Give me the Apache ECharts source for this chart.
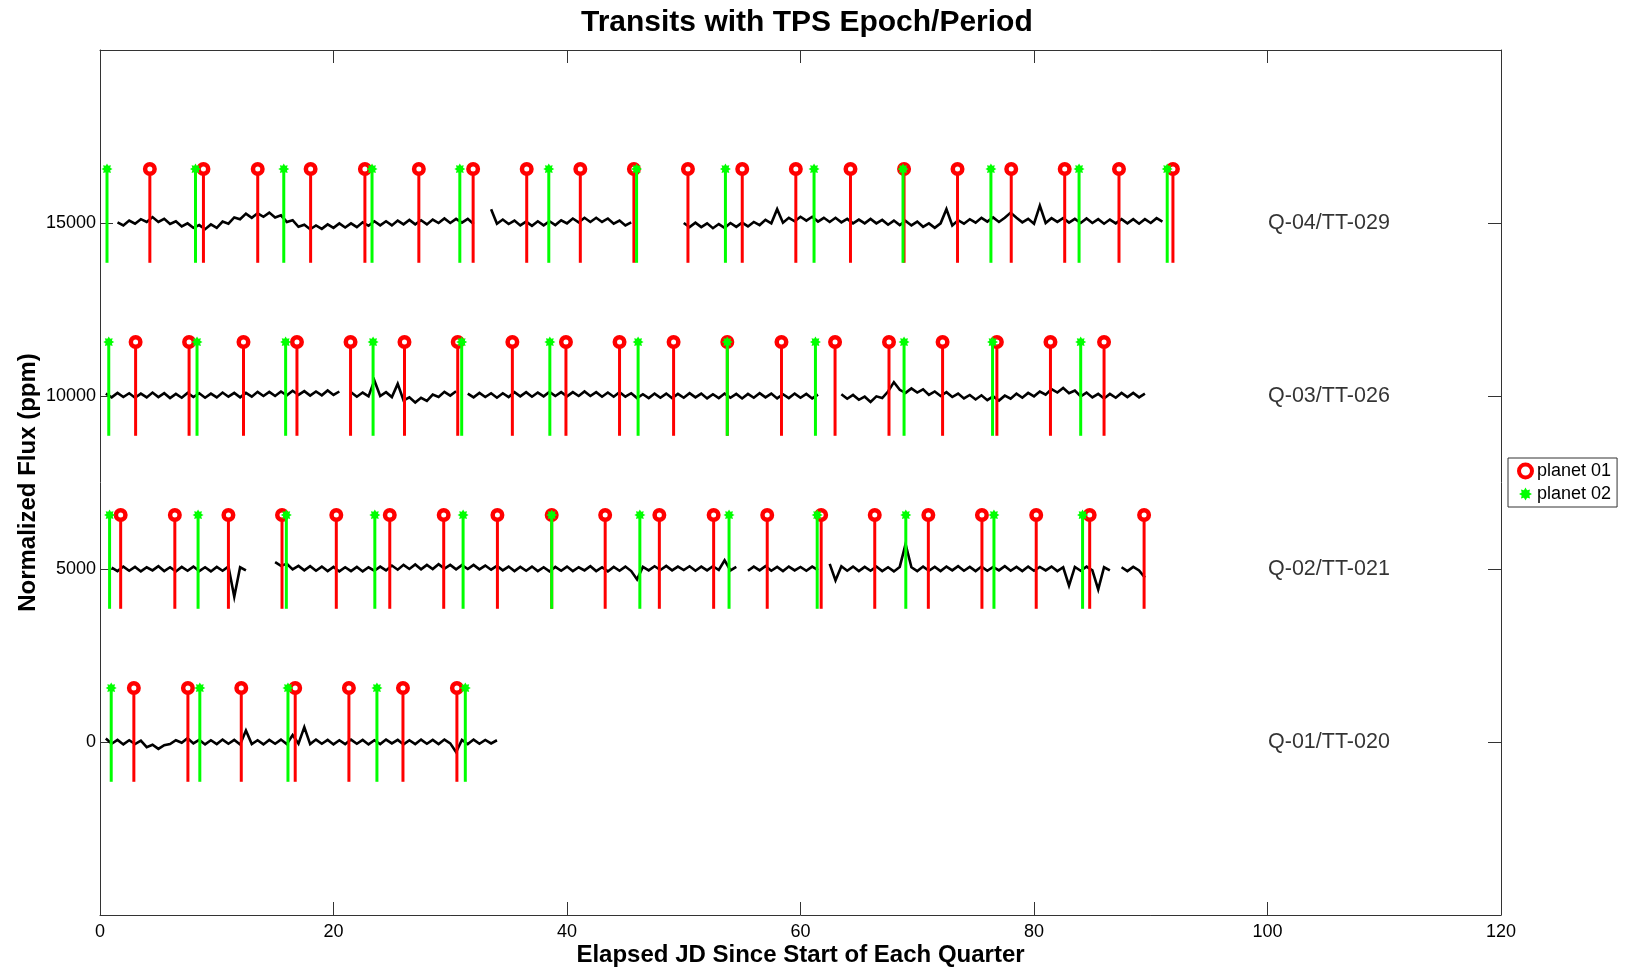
<!DOCTYPE html>
<html><head><meta charset="utf-8">
<script src="https://cdn.jsdelivr.net/npm/echarts@6.0.0/dist/echarts.min.js"></script>
<style>html,body{margin:0;padding:0;background:#fff}#c{width:1625px;height:968px}</style>
</head><body><div id="c"></div>
<script>
// ---- data ----
const quarterLabels = ['Q-01/TT-020', 'Q-02/TT-021', 'Q-03/TT-026', 'Q-04/TT-029'];
const quarterOffsets = [0, 5000, 10000, 15000];
const quarterLabelX = 100;
const xTicks = [0, 20, 40, 60, 80, 100, 120];
const yTicks = [0, 5000, 10000, 15000];
const sampleStep = 0.5;

// flux deviation (ppm) sampled every 0.5 d, null = data gap
const q01Start = 0.5;
const q01Flux = [100,-50,60,-70,50,-60,40,-150,-80,-200,
  -90,-60,50,-20,110,-40,60,-70,50,-60,
  70,-50,60,-70,330,-60,50,-70,60,-50,
  70,-60,200,-50,430,-60,70,-50,60,-70,
  50,-60,70,-50,60,-70,50,-60,70,-40,
  60,-70,50,-60,70,-50,60,-60,70,-40,
  -290,60,-60,70,-50,60,-40,50];

const q02Start = 1.0;
const q02Flux = [40,-60,70,-50,60,-70,50,-40,80,-60,
  50,-70,60,-50,70,-60,50,-70,60,-50,
  70,-800,50,-40,null,null,null,null,200,90,
  150,-10,90,-40,80,-50,70,-60,60,-70,
  50,-60,60,-70,50,-50,70,-40,100,-20,
  120,0,130,-10,120,0,140,10,120,-10,
  110,0,120,-10,100,-20,90,-40,70,-60,
  60,-50,70,-60,50,-70,60,-50,70,-60,
  50,-40,80,-60,50,-70,60,-50,70,-60,
  -300,60,-40,80,-30,90,-40,70,-30,80,
  -50,70,-40,80,-30,250,-40,60,null,-50,
  70,-40,80,-50,60,-60,70,-40,60,-50,
  70,-30,null,150,-330,80,-50,70,-60,60,
  -50,70,-60,50,-70,60,720,50,-60,70,
  -50,60,-60,70,-40,80,-50,60,-60,70,
  -50,60,-40,80,-50,60,-60,70,-50,60,
  -40,70,-60,50,-480,60,-50,70,-40,-590,
  50,-40,null,50,-60,60,-40,-250];

const q03Start = 0.5;
const q03Flux = [70,-40,90,-30,80,-50,70,-40,100,-30,
  80,-60,60,-50,90,-30,80,-50,70,-40,
  100,-20,90,-40,90,-20,120,0,120,0,
  130,20,150,30,140,10,130,20,160,30,
  130,null,110,-20,100,-10,450,0,110,-30,
  350,-130,-40,-190,-50,-140,40,-30,120,10,
  140,null,70,-40,90,-30,80,-50,80,-30,
  110,-10,110,-20,100,-10,120,0,110,-10,
  110,0,130,0,110,-20,100,-20,110,-20,
  80,-60,50,-60,70,-50,70,-60,60,-50,
  80,-40,70,-70,50,-60,70,-50,60,-70,
  60,-50,80,-40,70,-70,50,-60,70,-50,
  60,-70,40,null,null,null,50,-80,30,-110,
  -20,-170,-10,-60,130,400,180,90,220,100,
  190,30,130,0,110,-30,70,-70,30,-100,
  20,-120,-10,-130,10,-80,70,-50,90,-10,
  130,40,200,100,230,80,160,-10,100,-40,
  60,-70,60,-50,90,-30,90,-40,70];

const q04Start = 1.5;
const q04Flux = [20,-70,70,-20,110,30,170,30,120,-30,
  50,-100,-10,-140,-60,-180,-40,-140,40,-20,
  160,110,270,150,280,180,300,160,220,30,
  80,-110,-50,-180,-70,-170,-40,-140,-10,-130,
  -10,-120,20,-80,50,-70,50,-70,70,-40,
  90,-40,80,-40,100,0,130,0,120,10,
  120,-30,null,null,400,-20,100,-30,70,-70,
  40,-80,50,-70,50,-60,80,-10,130,20,
  150,30,150,30,130,-20,70,-70,20,null,
  null,null,null,null,null,null,null,0,-120,10,
  -120,-10,-150,-30,-140,0,-110,10,-100,30,
  -60,90,-10,400,10,150,50,180,70,180,
  40,150,30,150,20,120,-10,100,-10,120,
  -10,90,-50,70,-60,60,-70,40,-110,-10,
  -140,-10,400,-70,80,-20,110,10,150,40,
  160,30,150,300,150,20,120,-20,500,0,
  140,30,140,10,120,0,130,0,110,-20,
  100,-10,110,-10,110,-20,110,0,140,40];

// transit times (days)
const q01Planet01 = [2.9, 7.53, 12.1, 16.72, 21.32, 25.95, 30.57];
const q01Planet02 = [0.96, 8.55, 16.1, 23.72, 31.29];
const q02Planet01 = [1.77, 6.41, 11.0, 15.59, 20.24, 24.82, 29.44, 34.04, 38.69, 43.27, 47.91, 52.56, 57.15, 61.77, 66.36, 70.95, 75.54, 80.19, 84.77, 89.43];
const q02Planet02 = [0.82, 8.4, 15.96, 23.54, 31.1, 38.69, 46.24, 53.88, 61.43, 69.02, 76.57, 84.16];
const q03Planet01 = [3.05, 7.63, 12.29, 16.87, 21.46, 26.08, 30.64, 35.32, 39.91, 44.5, 49.13, 53.73, 58.37, 62.96, 67.58, 72.17, 76.82, 81.41, 86.0];
const q03Planet02 = [0.75, 8.31, 15.9, 23.39, 30.98, 38.53, 46.09, 53.73, 61.28, 68.87, 76.45, 84.0];
const q04Planet01 = [4.27, 8.86, 13.51, 18.04, 22.69, 27.31, 31.96, 36.55, 41.14, 45.73, 50.36, 55.01, 59.6, 64.28, 68.87, 73.45, 78.05, 82.63, 87.28, 91.9];
const q04Planet02 = [0.6, 8.18, 15.74, 23.3, 30.82, 38.44, 45.96, 53.57, 61.16, 68.78, 76.31, 83.86, 91.41];
const stemBelow = -1150;
const stemAbove = 1560;

// ---- build ----
const FONT = 'Liberation Sans';
const RED = '#ff0000', GREEN = '#00ff00';
const STAR = 'path://M20 10 L15.8 12.4 L17.07 17.07 L12.4 15.8 L10 20 L7.6 15.8 L2.93 17.07 L4.2 12.4 L0 10 L4.2 7.6 L2.93 2.93 L7.6 4.2 L10 0 L12.4 4.2 L17.07 2.93 L15.8 7.6 Z';

const fluxSets = [[q01Start, q01Flux], [q02Start, q02Flux], [q03Start, q03Flux], [q04Start, q04Flux]];
const p1Sets = [q01Planet01, q02Planet01, q03Planet01, q04Planet01];
const p2Sets = [q01Planet02, q02Planet02, q03Planet02, q04Planet02];

const series = [];
fluxSets.forEach(([start, vals], qi) => {
  const off = quarterOffsets[qi];
  series.push({
    type: 'line', name: 'flux' + qi, showSymbol: false, symbol: 'none', connectNulls: false,
    lineStyle: { color: '#000', width: 2.6, join: 'miter' }, z: 2, silent: true,
    data: vals.map((v, i) => [start + i * sampleStep, v === null ? '-' : off + v])
  });
});

function stemData(sets) {
  const out = [];
  sets.forEach((arr, qi) => arr.forEach(t => out.push([t, quarterOffsets[qi] + stemBelow, quarterOffsets[qi] + stemAbove])));
  return out;
}
function markerData(sets) {
  const out = [];
  sets.forEach((arr, qi) => arr.forEach(t => out.push([t, quarterOffsets[qi] + stemAbove])));
  return out;
}
function stemSeries(sets, color, z) {
  return {
    type: 'custom', name: 'stem', z: z, silent: true,
    encode: { x: 0, y: [1, 2] },
    data: stemData(sets),
    renderItem: (params, api) => {
      const a = api.coord([api.value(0), api.value(1)]);
      const b = api.coord([api.value(0), api.value(2)]);
      return { type: 'line', shape: { x1: a[0], y1: a[1], x2: b[0], y2: b[1] }, style: { stroke: color, lineWidth: 3 } };
    }
  };
}
series.push(stemSeries(p1Sets, RED, 3));
series.push({
  type: 'scatter', name: 'planet 01', z: 4, silent: true,
  symbol: 'circle', symbolSize: 9.5,
  itemStyle: { color: '#fff', borderColor: RED, borderWidth: 4.5, opacity: 1 },
  data: markerData(p1Sets)
});
series.push(stemSeries(p2Sets, GREEN, 5));
series.push({
  type: 'scatter', name: 'planet 02', z: 6, silent: true,
  symbol: STAR, symbolSize: 11,
  itemStyle: { color: GREEN, opacity: 1 },
  data: markerData(p2Sets)
});
series.push({
  type: 'scatter', name: 'labels', silent: true, symbolSize: 1,
  itemStyle: { color: 'rgba(0,0,0,0)' },
  data: quarterOffsets.map((o, i) => [quarterLabelX, o, quarterLabels[i]]),
  label: { show: true, position: 'right', distance: 0, formatter: p => p.data[2],
    fontSize: 21.5, fontFamily: FONT, color: '#000' }
});

const axisLineStyle = { color: '#333', width: 1 };
const chart = echarts.init(document.getElementById('c'));
chart.setOption({
  animation: false,
  backgroundColor: '#fff',
  title: { text: 'Transits with TPS Epoch/Period', left: 576, top: 3,
    textStyle: { fontFamily: FONT, fontSize: 30, fontWeight: 'bold', color: '#000' } },
  legend: {
    data: [
      { name: 'planet 01', icon: 'circle', itemStyle: { color: '#fff', borderColor: RED, borderWidth: 4 } },
      { name: 'planet 02', icon: STAR, itemStyle: { color: GREEN } }
    ],
    orient: 'vertical', left: 1508, top: 458, itemWidth: 13, itemHeight: 13, itemGap: 5,
    padding: [4, 6, 4, 9], borderColor: '#333', borderWidth: 1, backgroundColor: '#fff',
    textStyle: { fontFamily: FONT, fontSize: 18, color: '#000' }, selectedMode: false
  },
  grid: { left: 100, right: 124, top: 50, bottom: 53, show: false, containLabel: false, outerBoundsMode: 'none' },
  xAxis: [
    { type: 'value', position: 'bottom', min: xTicks[0], max: xTicks[xTicks.length - 1], interval: 20,
      name: 'Elapsed JD Since Start of Each Quarter', nameLocation: 'middle', nameGap: 28, nameMoveOverlap: false,
      nameTextStyle: { fontFamily: FONT, fontSize: 24, fontWeight: 'bold', color: '#000' },
      axisLine: { show: true, onZero: false, lineStyle: axisLineStyle },
      axisTick: { show: true, inside: true, length: 13, lineStyle: axisLineStyle },
      axisLabel: { fontFamily: FONT, fontSize: 18, color: '#000', margin: 8 },
      splitLine: { show: false } },
    { type: 'value', position: 'top', min: xTicks[0], max: xTicks[xTicks.length - 1], interval: 20,
      axisLine: { show: true, onZero: false, lineStyle: axisLineStyle },
      axisTick: { show: true, inside: true, length: 13, lineStyle: axisLineStyle },
      axisLabel: { show: false }, splitLine: { show: false } }
  ],
  yAxis: [
    { type: 'value', position: 'left', min: -5000, max: 20000, interval: 5000,
      name: 'Normalized Flux (ppm)', nameLocation: 'middle', nameGap: 60, nameMoveOverlap: false,
      nameTextStyle: { fontFamily: FONT, fontSize: 24, fontWeight: 'bold', color: '#000' },
      axisLine: { show: true, onZero: false, lineStyle: axisLineStyle },
      axisTick: { show: true, inside: true, length: 13, lineStyle: axisLineStyle },
      axisLabel: { fontFamily: FONT, fontSize: 18, color: '#000', margin: 4,
        formatter: v => (yTicks.indexOf(v) >= 0 ? String(v) : '') },
      splitLine: { show: false } },
    { type: 'value', position: 'right', min: -5000, max: 20000, interval: 5000,
      axisLine: { show: true, onZero: false, lineStyle: axisLineStyle },
      axisTick: { show: true, inside: true, length: 13, lineStyle: axisLineStyle },
      axisLabel: { show: false }, splitLine: { show: false } }
  ],
  series: series
});
</script>
</body></html>
